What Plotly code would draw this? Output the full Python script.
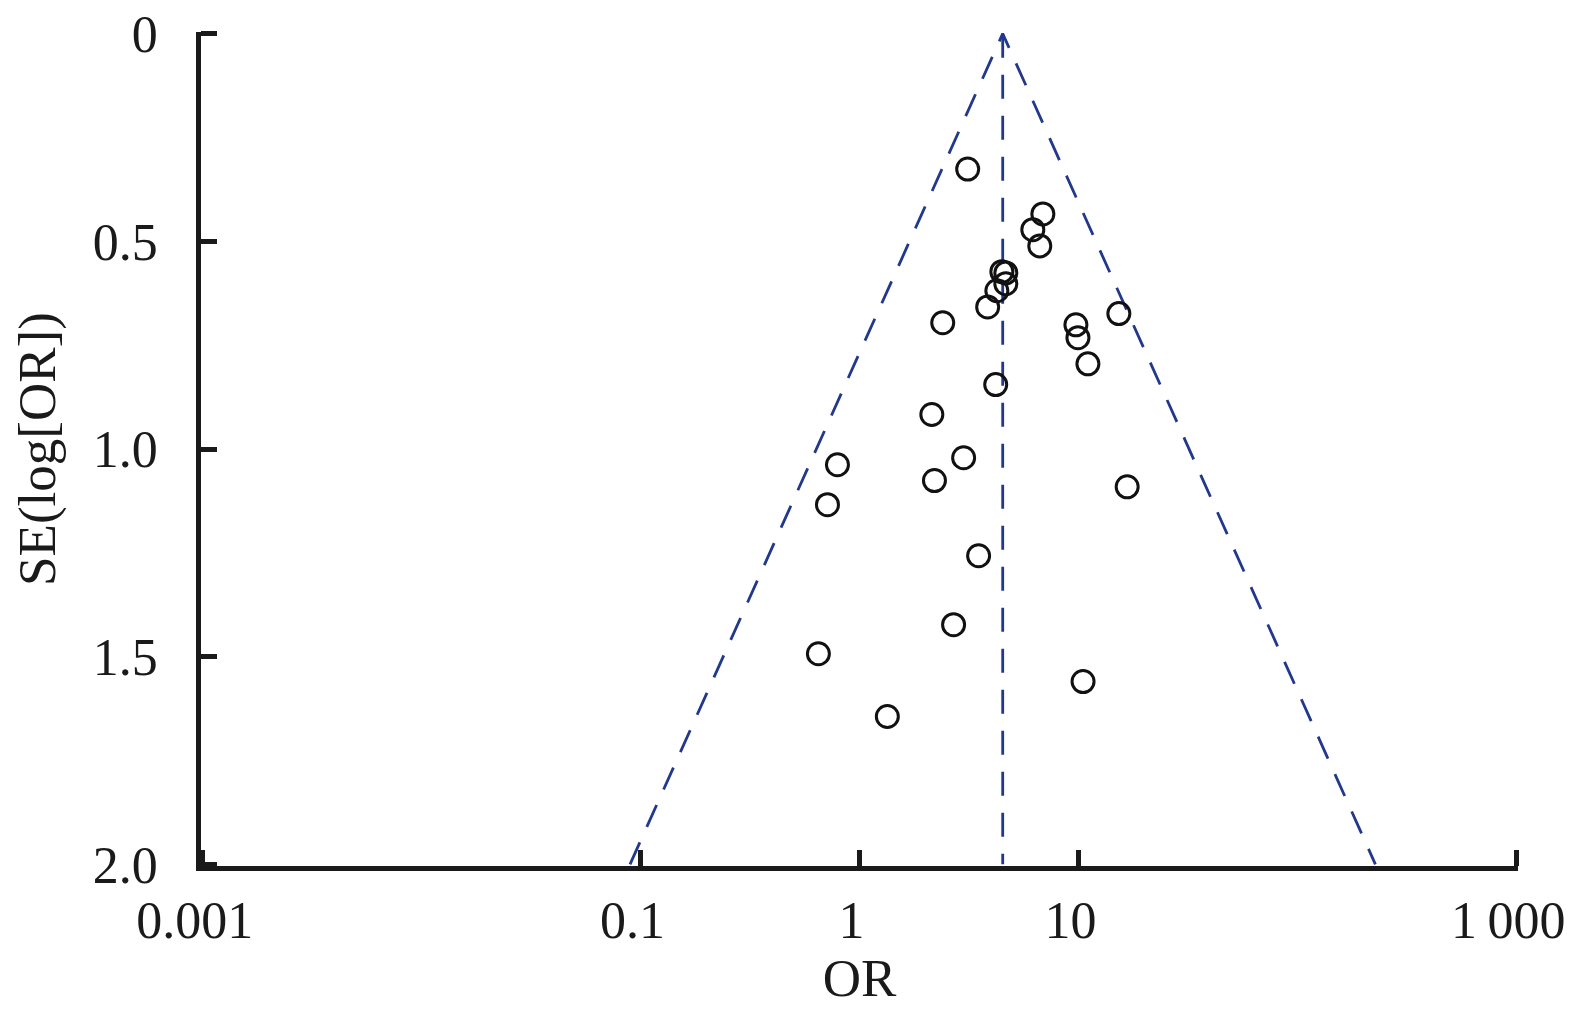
import plotly.graph_objects as go
import numpy as np

# Study estimates
study_or = [3.12, 6.88, 6.19, 6.66, 4.47, 4.66, 4.66, 4.24, 3.85, 2.40,
            9.74, 9.95, 11.05, 15.3, 4.19, 2.14, 2.99, 0.793, 2.20, 16.7,
            0.714, 3.50, 2.69, 0.649, 10.5, 1.34]
study_se = [0.326, 0.434, 0.472, 0.511, 0.573, 0.576, 0.602, 0.619, 0.658, 0.696,
            0.701, 0.732, 0.795, 0.674, 0.845, 0.917, 1.021, 1.038, 1.076, 1.091,
            1.134, 1.257, 1.423, 1.493, 1.560, 1.644]

pooled_or = 4.51
se_max = 2.0

x_tickvals = [0.001, 0.1, 1, 10, 1000]
x_ticktext = ["0.001", "0.1", "1", "10", "1\u2009000"]
y_tickvals = [0, 0.5, 1.0, 1.5, 2.0]
y_ticktext = ["0", "0.5", "1.0", "1.5", "2.0"]

FONT = "Liberation Serif"
NAVY = "#22388c"
INK = "#1a1a1a"

lo = pooled_or * np.exp(-1.96 * se_max)
hi = pooled_or * np.exp(1.96 * se_max)

fig = go.Figure()
dash = "24px,17px"
fig.add_trace(go.Scatter(x=[lo, pooled_or, hi], y=[se_max, 0, se_max], mode="lines",
                         line=dict(color=NAVY, width=2.8, dash=dash),
                         hoverinfo="skip", showlegend=False, cliponaxis=False))
fig.add_trace(go.Scatter(x=[pooled_or, pooled_or], y=[0, se_max], mode="lines",
                         line=dict(color=NAVY, width=2.8, dash=dash),
                         hoverinfo="skip", showlegend=False, cliponaxis=False))
fig.add_trace(go.Scatter(x=study_or, y=study_se, mode="markers",
                         marker=dict(symbol="circle-open", size=22, color="#111111",
                                     line=dict(width=3, color="#111111")),
                         showlegend=False, cliponaxis=False))

fig.update_layout(
    width=1575, height=1035,
    margin=dict(l=193, r=65, t=24, b=177),
    paper_bgcolor="white", plot_bgcolor="white",
    font=dict(family=FONT, size=52, color=INK),
    xaxis=dict(type="log", range=[-3.008, 3.008], tickvals=x_tickvals, ticktext=x_ticktext,
               automargin=False, ticklabeloverflow="allow", ticklabelshift=-8,
               showgrid=False, zeroline=False, showline=True, linecolor=INK,
               linewidth=4.5, ticks="inside", ticklen=16, tickwidth=4.5, tickcolor=INK,
               ticklabelstandoff=5,
               title=dict(text="OR", standoff=5, font=dict(family=FONT, size=53))),
    yaxis=dict(range=[2.004, -0.004], tickvals=y_tickvals, ticktext=y_ticktext,
               automargin=False, ticklabeloverflow="allow",
               showgrid=False, zeroline=False, showline=True, linecolor=INK,
               linewidth=4.5, ticks="inside", ticklen=16, tickwidth=4.5, tickcolor=INK,
               ticklabelstandoff=28,
               title=dict(text="SE(log[OR])", standoff=24, font=dict(family=FONT, size=53))),
)

fig.write_html("out.html")
